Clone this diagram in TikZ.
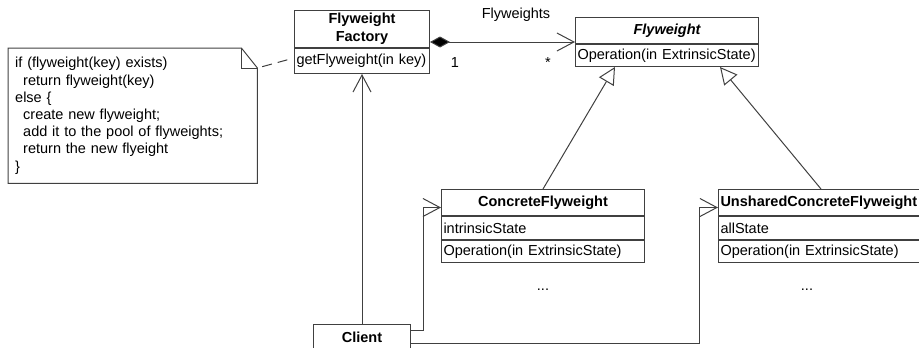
\documentclass[tikz,border=0pt]{standalone}
\usepackage{fontspec}
\usetikzlibrary{arrows.meta,positioning}
\newfontfamily\umlsans{Liberation Sans}
\newcommand{\umlfont}{\umlsans\fontsize{14.5pt}{17.2pt}\selectfont}
\definecolor{umlgray}{HTML}{404040}
\tikzset{
  classhead/.style={draw=umlgray, line width=1pt, inner xsep=2pt, inner ysep=0pt, font=\umlfont\bfseries, align=center},
  classpart/.style={draw=umlgray, line width=1pt, inner xsep=2pt, inner ysep=0pt, font=\umlfont, align=left},
  plain/.style={inner sep=0pt, font=\umlfont},
  umlline/.style={draw=umlgray, line width=1pt},
  openarrow/.style={umlline, -{Straight Barb[length=17pt, width=18pt]}},
  inherit/.style={umlline, -{Triangle[open, length=17pt, width=17pt]}},
}
\begin{document}
\begin{tikzpicture}[x=1pt, y=-1pt]
    \useasboundingbox (0,0) rectangle (919,348);
    % classes
    \node[classhead, anchor=north west, text width=131pt, minimum height=37pt] (fname) at (294,10) {Flyweight\\[1pt]Factory};
    \node[classpart, below=0pt of fname, text width=131pt, minimum height=25pt] (fops) {getFlyweight(in key)};

    \node[classhead, anchor=north west, text width=179pt, minimum height=26pt, font=\umlfont\bfseries\itshape] (flyname) at (575,17) {Flyweight};
    \node[classpart, below=0pt of flyname, text width=179pt, minimum height=22pt] (flyops) {Operation(in ExtrinsicState)};

    \node[classhead, anchor=north west, text width=199pt, minimum height=26pt] (cname) at (441,189) {ConcreteFlyweight};
    \node[classpart, below=0pt of cname, text width=199pt, minimum height=23pt] (cattr) {intrinsicState};
    \node[classpart, below=0pt of cattr, text width=199pt, minimum height=22pt] (cops) {Operation(in ExtrinsicState)};

    \node[classhead, anchor=north west, text width=201pt, minimum height=26pt, align=left] (uname) at (718,189) {UnsharedConcreteFlyweight};
    \node[classpart, below=0pt of uname, text width=201pt, minimum height=23pt] (uattr) {allState};
    \node[classpart, below=0pt of uattr, text width=201pt, minimum height=22pt] (uops) {Operation(in ExtrinsicState)};

    \node[classhead, anchor=north west, text width=93pt, minimum height=26pt] (client) at (313,324) {Client};

    \node[plain] (dotsc) at (543,290) {...};
    \node[plain] (dotsu) at (807,290) {...};

    % note
    \node[plain, anchor=north west, inner xsep=7pt, text width=235pt, minimum width=249pt, minimum height=135pt, align=left] (note) at (8,48)
      {if (flyweight(key) exists)\\
       \hspace*{8pt}return flyweight(key)\\
       else \{\\
       \hspace*{8pt}create new flyweight;\\
       \hspace*{8pt}add it to the pool of flyweights;\\
       \hspace*{8pt}return the new flyeight\\
       \}};
    \draw[umlline] (note.north west) -- ([xshift=-16pt]note.north east) -- ([yshift=-20pt]note.north east)
        -- (note.south east) -- (note.south west) -- cycle;
    \draw[umlline] ([xshift=-16pt]note.north east) |- ([yshift=-20pt]note.north east);
    \coordinate (notetip) at ([yshift=-20pt]note.north east);
    \draw[umlline, dash pattern=on 10pt off 6pt, shorten <=5pt, shorten >=4pt] (notetip) -- ([yshift=3pt]fops.west);

    % composition
    \coordinate (comp) at ([yshift=6pt]fname.south east);
    \draw[umlline, {Diamond[length=20pt, width=11pt, fill=black]}-{Straight Barb[length=17pt, width=18pt]}] (comp) -- (comp -| flyname.west);
    \node[plain] (flylabel) at (516,15) {Flyweights};
    \node[plain] (one) at (455,63) {1};
    \node[plain] (many) at (548,63) {*};

    % inheritance
    \draw[inherit] (cname.north) -- ([xshift=-52pt]flyops.south);
    \draw[inherit] (uname.north) -- ([xshift=53pt]flyops.south);

    % client links
    \draw[openarrow] (client.north) -- (fops.south);
    \draw[openarrow] ([yshift=7pt]client.east) -| ([xshift=-18pt,yshift=-5pt]cname.west) -- ([yshift=-5pt]cname.west);
    \draw[openarrow] ([yshift=-6pt]client.east) -| ([xshift=-19pt,yshift=-5pt]uname.west) -- ([yshift=-5pt]uname.west);
\end{tikzpicture}
\end{document}
